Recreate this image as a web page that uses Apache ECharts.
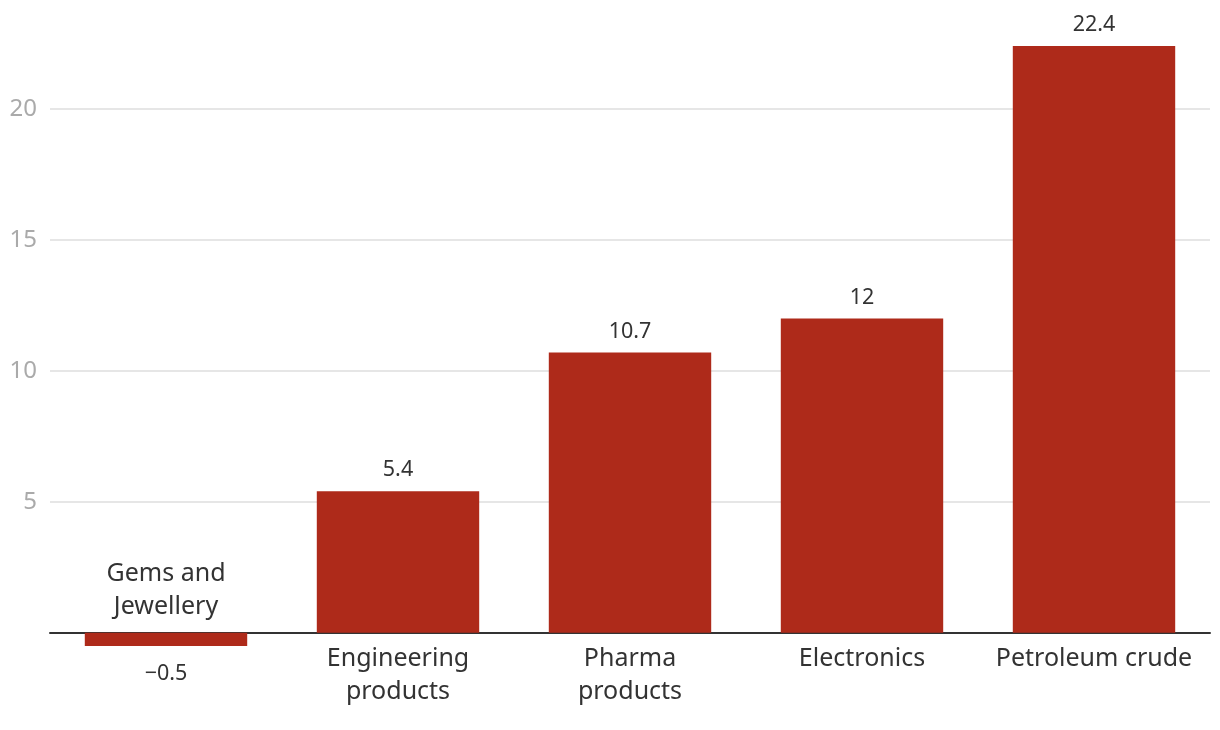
<!DOCTYPE html>
<html>
<head>
<meta charset="utf-8">
<script src="https://cdn.jsdelivr.net/npm/echarts@6/dist/echarts.min.js"></script>
<style>
html,body{margin:0;padding:0;background:#fff;}
#chart{width:1220px;height:730px;}
</style>
</head>
<body>
<div id="chart"></div>
<script>
const categories = ['Gems and\nJewellery', 'Engineering\nproducts', 'Pharma\nproducts', 'Electronics', 'Petroleum crude'];
const values = [-0.5, 5.4, 10.7, 12, 22.4];
const yTicks = [5, 10, 15, 20];

const FONT = '"Noto Sans"';
const chart = echarts.init(document.getElementById('chart'));

const fmtNum = v => String(v).replace('-', '\u2212');

chart.setOption({
  animation: false,
  grid: { left: 50, right: 10, top: 4, bottom: 71 },
  xAxis: {
    type: 'category',
    data: categories,
    axisLine: { onZero: true, lineStyle: { color: '#333', width: 2 } },
    axisTick: { show: false },
    axisLabel: { show: false }
  },
  yAxis: {
    type: 'value',
    min: -1, max: 24,
    axisLine: { show: false },
    axisTick: { show: false, customValues: yTicks },
    splitLine: {
      lineStyle: { color: '#e6e6e6', width: 2 }
    },
    axisLabel: {
      customValues: yTicks,
      margin: 13,
      fontFamily: FONT, fontSize: 24, color: '#aaa'
    }
  },
  series: [
    {
      type: 'bar',
      barCategoryGap: '30%',
      itemStyle: { color: '#AE2A1A' },
      z: 2,
      data: values.map(v => ({
        value: v,
        label: {
          show: true,
          position: v < 0 ? 'bottom' : 'top',
          distance: v < 0 ? 17 : 10,
          fontFamily: FONT, fontSize: 21.5, color: '#333',
          formatter: p => fmtNum(p.value)
        }
      }))
    },
    {
      type: 'bar',
      barCategoryGap: '30%',
      barGap: '-100%',
      itemStyle: { color: 'transparent' },
      silent: true,
      z: 1,
      data: values.map((v, i) => ({
        value: 0,
        label: {
          show: true,
          position: v < 0 ? 'top' : 'bottom',
          distance: v < 0 ? 9 : 10,
          fontFamily: FONT, fontSize: 25, color: '#333', lineHeight: 33,
          formatter: () => categories[i]
        }
      }))
    }
  ]
});
</script>
</body>
</html>
